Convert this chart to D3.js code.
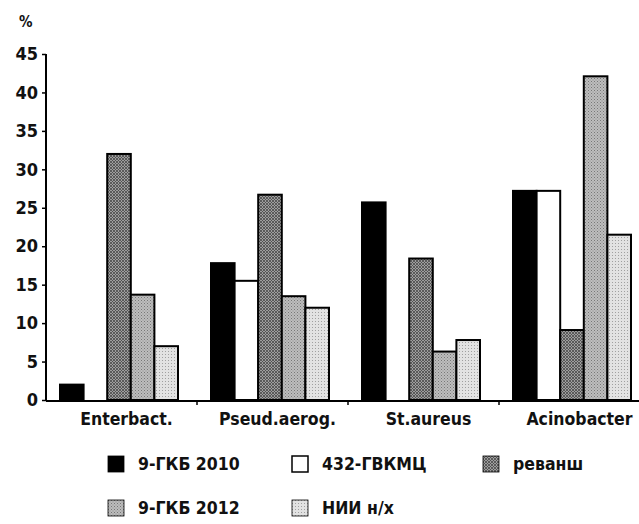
<!DOCTYPE html>
<html>
<head>
<meta charset="utf-8">
<script src="https://cdn.jsdelivr.net/npm/d3@7"></script>
<style>
  body { margin: 0; background: #fff; }
  svg text { font-family: "DejaVu Sans Condensed", "DejaVu Sans", sans-serif; font-weight: bold; fill: #111; }
</style>
</head>
<body>
<div id="chart"></div>
<script>
// categories and series
const categories = ['Enterbact.', 'Pseud.aerog.', 'St.aureus', 'Acinobacter'];
const seriesNames = ['9-ГКБ 2010', '432-ГВКМЦ', 'реванш', '9-ГКБ 2012', 'НИИ н/х'];
const gkb2010 = [2, 17.8, 25.7, 27.2];
const gvkmc = [0, 15.5, 0, 27.2];
const revansh = [32, 26.7, 18.4, 9.1];
const gkb2012 = [13.7, 13.5, 6.3, 42.1];
const nii = [7, 12, 7.8, 21.5];
const yTicks = [0, 5, 10, 15, 20, 25, 30, 35, 40, 45];

const seriesValues = [gkb2010, gvkmc, revansh, gkb2012, nii];
const fills = ['#000', '#fff', 'url(#pat-rev)', 'url(#pat-2012)', 'url(#pat-nii)'];

const width = 639, height = 524;
const svg = d3.select('#chart').append('svg')
  .attr('width', width)
  .attr('height', height);

// textures for the grey bars
const defs = svg.append('defs');
const rev = defs.append('pattern').attr('id', 'pat-rev')
  .attr('width', 3).attr('height', 3).attr('patternUnits', 'userSpaceOnUse');
rev.append('rect').attr('width', 3).attr('height', 3).attr('fill', '#9e9e9e');
rev.append('path').attr('d', 'M0,0L3,3M3,0L0,3').attr('stroke', '#4a4a4a').attr('stroke-width', 0.8);
const p12 = defs.append('pattern').attr('id', 'pat-2012')
  .attr('width', 3).attr('height', 3).attr('patternUnits', 'userSpaceOnUse');
p12.append('rect').attr('width', 3).attr('height', 3).attr('fill', '#bdbdbd');
p12.append('rect').attr('x', 0).attr('y', 0).attr('width', 1).attr('height', 1).attr('fill', '#777');
p12.append('rect').attr('x', 1.5).attr('y', 1.5).attr('width', 1).attr('height', 1).attr('fill', '#888');
const pn = defs.append('pattern').attr('id', 'pat-nii')
  .attr('width', 3).attr('height', 3).attr('patternUnits', 'userSpaceOnUse');
pn.append('rect').attr('width', 3).attr('height', 3).attr('fill', '#e2e2e2');
pn.append('rect').attr('x', 0).attr('y', 0).attr('width', 1).attr('height', 1).attr('fill', '#a0a0a0');

const x0 = d3.scaleBand().domain(categories).range([46, 650]);
const x1 = d3.scaleBand().domain(seriesNames).range([14, 132]);
const y = d3.scaleLinear().domain([0, 45]).range([400, 54]);

// bars
const barData = [];
categories.forEach((c, i) => {
  seriesNames.forEach((s, j) => {
    barData.push({ cat: c, series: s, idx: j, value: seriesValues[j][i] });
  });
});
svg.append('g')
  .selectAll('rect')
  .data(barData.filter(d => d.value > 0))
  .join('rect')
  .attr('x', d => x0(d.cat) + x1(d.series))
  .attr('y', d => y(d.value))
  .attr('width', x1.bandwidth())
  .attr('height', d => y(0) - y(d.value))
  .attr('fill', d => fills[d.idx])
  .attr('stroke', '#000')
  .attr('stroke-width', 2);

// y axis
const yAxis = svg.append('g')
  .attr('transform', 'translate(46,0)')
  .call(d3.axisLeft(y).tickValues(yTicks).tickSize(4).tickPadding(4));
yAxis.select('.domain').attr('stroke-width', 2).attr('d', 'M0,54V401');
yAxis.selectAll('.tick line').attr('stroke-width', 1.5);
yAxis.selectAll('.tick text').attr('font-size', 18).style('fill', '#111');

// x axis
const xAxis = svg.append('g')
  .attr('transform', 'translate(0,401)');
xAxis.append('line').attr('x1', 46).attr('x2', 639).attr('stroke', '#000').attr('stroke-width', 2);
xAxis.selectAll('line.tk')
  .data(categories.slice(1))
  .join('line')
  .attr('class', 'tk')
  .attr('x1', d => x0(d)).attr('x2', d => x0(d))
  .attr('y1', 0).attr('y2', 4)
  .attr('stroke', '#000').attr('stroke-width', 1.5);
xAxis.selectAll('text')
  .data(categories)
  .join('text')
  .attr('x', d => x0(d) + x0.bandwidth() / 2 + 5)
  .attr('y', 24)
  .attr('text-anchor', 'middle')
  .attr('font-size', 17.5)
  .text(d => d);

// unit label
svg.append('text').attr('x', 19).attr('y', 27).attr('font-size', 15).text('%');

// legend
const legendPos = [
  { x: 108, y: 456 }, { x: 292, y: 456 }, { x: 483, y: 456 },
  { x: 108, y: 500 }, { x: 292, y: 500 }
];
const legend = svg.append('g')
  .selectAll('g')
  .data(seriesNames)
  .join('g')
  .attr('transform', (d, i) => `translate(${legendPos[i].x},${legendPos[i].y})`);
legend.append('rect')
  .attr('width', 16).attr('height', 16)
  .attr('fill', (d, i) => fills[i])
  .attr('stroke', '#000')
  .attr('stroke-width', (d, i) => i === 1 ? 1.5 : 0.8);
legend.append('text')
  .attr('x', 30).attr('y', 14)
  .attr('font-size', 17.5)
  .text(d => d);
</script>
</body>
</html>
